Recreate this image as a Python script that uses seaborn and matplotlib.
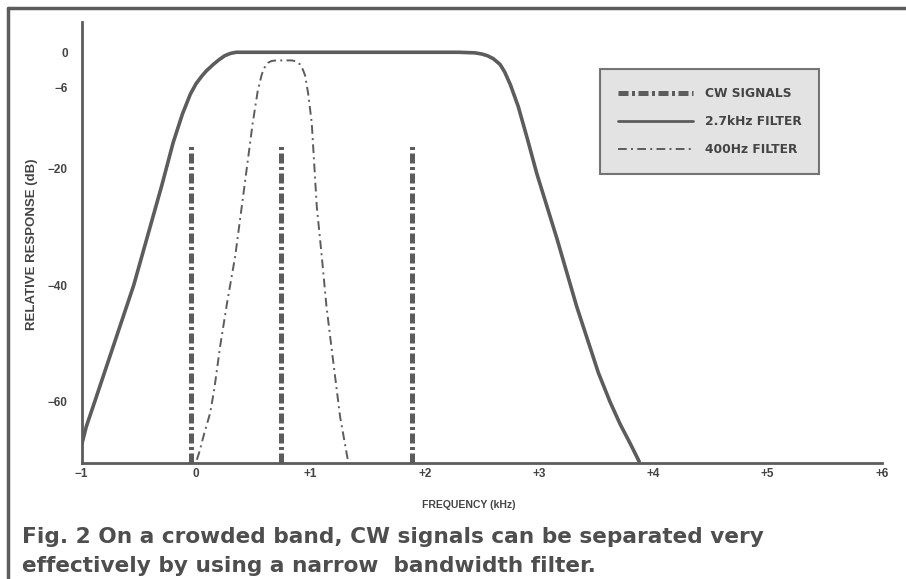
import seaborn as sns
import matplotlib.pyplot as plt
import pandas as pd
from matplotlib.lines import Line2D

# values (kHz offset, dB)
filter27_khz = [-1.0, -0.96, -0.886, -0.545, -0.30, -0.20, -0.119, -0.05, 0.0, 0.05, 0.09,
                0.15, 0.2, 0.25, 0.30, 0.35, 1.0, 2.0, 2.3, 2.44, 2.5, 2.55, 2.60, 2.66,
                2.70, 2.75, 2.818, 2.90, 2.98, 3.155, 3.33, 3.52, 3.62, 3.71, 3.80, 3.876]
filter27_db = [-67.4, -64.3, -60.0, -40.0, -22.9, -15.5, -10.6, -7.2, -5.4, -4.1, -3.2,
               -2.1, -1.3, -0.6, -0.2, 0.0, 0.0, 0.0, 0.0, -0.1, -0.3, -0.6, -1.1, -2.1,
               -3.4, -5.6, -9.3, -15.0, -20.8, -31.9, -43.7, -55.1, -60.0, -63.9, -67.3, -70.3]

filter400_khz = [0.007, 0.03, 0.07, 0.123, 0.16, 0.21, 0.27, 0.342, 0.40, 0.45, 0.496,
                 0.54, 0.575, 0.60, 0.63, 0.66, 0.70, 0.77, 0.84, 0.88, 0.91, 0.935, 0.954,
                 0.98, 1.012, 1.056, 1.10, 1.14, 1.187, 1.26, 1.33]
filter400_db = [-70.0, -68.6, -65.6, -62.0, -57.8, -50.6, -43.2, -35.1, -26.5, -19.0, -12.1,
                -6.6, -3.8, -2.6, -1.8, -1.5, -1.4, -1.4, -1.4, -1.6, -2.1, -3.0, -4.0,
                -7.0, -12.1, -26.5, -35.1, -43.5, -51.1, -62.6, -70.3]

cw_khz = [-0.04, 0.74, 1.89]
cw_top_db = [-16, -16, -16]

x_ticks = [-1, 0, 1, 2, 3, 4, 5, 6]
x_ticklabels = ['\u22121', '0', '+1', '+2', '+3', '+4', '+5', '+6']
y_ticks = [0, -6, -20, -40, -60]
y_ticklabels = ['0', '\u22126', '\u221220', '\u221240', '\u221260']

legend_labels = ['CW SIGNALS', '2.7kHz FILTER', '400Hz FILTER']

sns.set_style('white')
plt.rcParams['font.family'] = ['Liberation Sans', 'DejaVu Sans']
ink = '#5c5c5c'
txt = '#444444'

cw_style = (0, (2.0, 0.7, 0.6, 0.7))
narrow_style = (0, (4.5, 2.2, 1.0, 2.2))

fig = plt.figure(figsize=(9.06, 5.79), dpi=100)
ax = fig.add_axes([0.0902, 0.2009, 0.8833, 0.7611])

df27 = pd.DataFrame({'khz': filter27_khz, 'db': filter27_db})
df400 = pd.DataFrame({'khz': filter400_khz, 'db': filter400_db})

sns.lineplot(data=df27, x='khz', y='db', sort=False, estimator=None,
             color=ink, lw=2.6, ax=ax)
sns.lineplot(data=df400, x='khz', y='db', sort=False, estimator=None,
             color=ink, lw=1.4, linestyle=narrow_style, ax=ax)
ax.vlines(cw_khz, -70.5, cw_top_db, colors=ink, lw=3.6, linestyles=[cw_style])

ax.set_xlim(-1, 6)
ax.set_ylim(-70.5, 5.2)
ax.set_xticks(x_ticks)
ax.set_xticklabels(x_ticklabels)
ax.set_yticks(y_ticks)
ax.set_yticklabels(y_ticklabels)

for s in ['top', 'right']:
    ax.spines[s].set_visible(False)
for s in ['left', 'bottom']:
    ax.spines[s].set_color(ink)
    ax.spines[s].set_linewidth(2.0)

ax.tick_params(axis='x', direction='in', length=9, width=1.0, color=ink, pad=4,
               labelsize=8.5, labelcolor=txt)
ax.tick_params(axis='y', direction='in', length=9, width=1.6, color=ink, pad=10,
               labelsize=8.5, labelcolor=txt)
for lab in ax.get_xticklabels() + ax.get_yticklabels():
    lab.set_fontweight('bold')

ax.set_xlabel('FREQUENCY (kHz)', fontsize=7.5, fontweight='bold', color=txt)
ax.xaxis.set_label_coords(0.483, -0.085)
ax.set_ylabel('RELATIVE RESPONSE (dB)', fontsize=9.5, fontweight='bold', color=txt)
ax.yaxis.set_label_coords(-0.0546, 0.496)

handles = [
    Line2D([0], [0], color=ink, lw=3.6, linestyle=cw_style),
    Line2D([0], [0], color=ink, lw=2.0),
    Line2D([0], [0], color=ink, lw=1.4, linestyle=narrow_style),
]
leg = ax.legend(handles, legend_labels, loc='upper left', bbox_to_anchor=(0.648, 0.893),
                borderaxespad=0, borderpad=1.45, handlelength=6.1, handletextpad=1.0,
                labelspacing=1.25, frameon=True, fancybox=False,
                prop={'weight': 'bold', 'size': 8.8, 'family': 'DejaVu Sans'},
                labelcolor=txt)
leg.get_frame().set_facecolor('#dcdcdc')
leg.get_frame().set_edgecolor('#555555')
leg.get_frame().set_linewidth(1.5)

# outer frame of the printed figure
fig.add_artist(Line2D([8 / 906, 1.0], [1 - 8 / 579, 1 - 8 / 579], color=ink, lw=2.5,
                      transform=fig.transFigure))
fig.add_artist(Line2D([8 / 906, 8 / 906], [0.0, 1 - 8 / 579], color=ink, lw=2.5,
                      transform=fig.transFigure))

fig.text(22 / 906, 1 - 537 / 579, 'Fig. 2 On a crowded band, CW signals can be separated very',
         fontsize=15.6, fontweight='bold', color='#4e4e4e', va='center', family='DejaVu Sans')
fig.text(22 / 906, 1 - 566 / 579, 'effectively by using a narrow  bandwidth filter.',
         fontsize=15.6, fontweight='bold', color='#4e4e4e', va='center', family='DejaVu Sans')

fig.savefig('out.png', dpi=100)
